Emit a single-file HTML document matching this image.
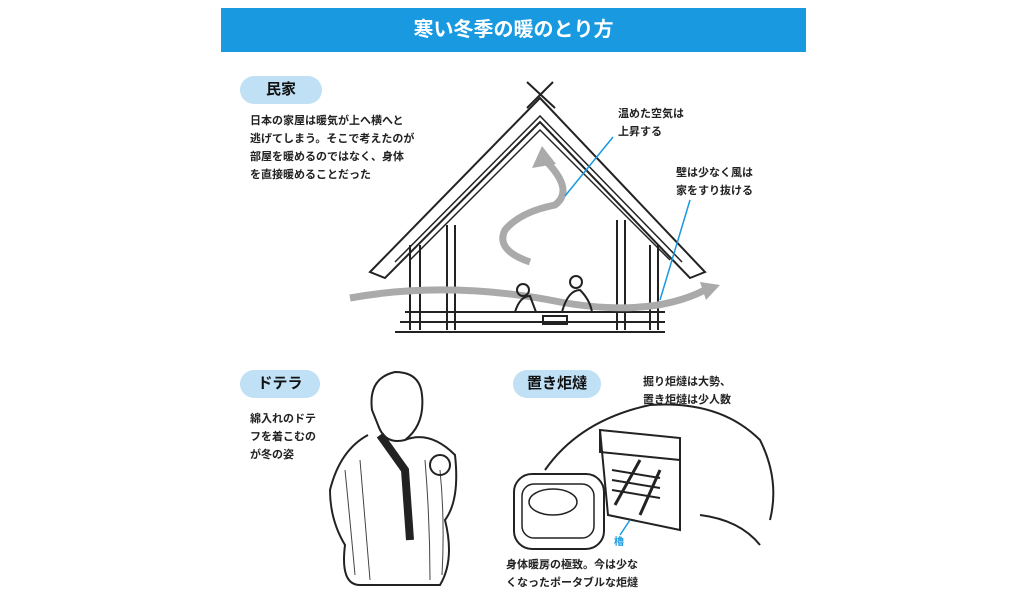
<!DOCTYPE html>
<html><head><meta charset="utf-8"><style>
body{margin:0;width:1024px;height:600px;background:#fff;overflow:hidden;position:relative;font-family:"Liberation Sans","Noto Sans CJK JP",sans-serif;}
.t{position:absolute;font-size:11px;line-height:18px;color:#222;font-weight:bold;white-space:nowrap}
.pill{position:absolute;background:#bfe0f5;border-radius:16px;font-size:15px;font-weight:bold;text-align:center;line-height:28px;height:28px;color:#111}
</style></head><body>
<div style="position:absolute;left:221px;top:8px;width:585px;height:44px;background:#1899e0;color:#fff;font-size:20px;font-weight:bold;text-align:center;line-height:44px">寒い冬季の暖のとり方</div>
<div class="pill" style="left:240px;top:76px;width:82px">民家</div>
<div class="t" style="left:250px;top:112px">日本の家屋は暖気が上へ横へと<br>逃げてしまう。そこで考えたのが<br>部屋を暖めるのではなく、身体<br>を直接暖めることだった</div>
<div class="t" style="left:618px;top:105px">温めた空気は<br>上昇する</div>
<div class="t" style="left:676px;top:164px">壁は少なく風は<br>家をすり抜ける</div>
<div class="pill" style="left:240px;top:370px;width:80px">ドテラ</div>
<div class="t" style="left:250px;top:410px">綿入れのドテ<br>フを着こむの<br>が冬の姿</div>
<div class="pill" style="left:513px;top:370px;width:88px">置き炬燵</div>
<div class="t" style="left:643px;top:373px">掘り炬燵は大勢、<br>置き炬燵は少人数</div>
<div class="t" style="left:506px;top:556px">身体暖房の極致。今は少な<br>くなったポータブルな炬燵</div>
<div class="t" style="left:614px;top:534px;color:#1899e0;font-size:10px">櫓</div>
<svg width="1024" height="600" style="position:absolute;left:0;top:0" fill="none" stroke="#222" stroke-width="2">
<path d="M370 272 L540 98 L705 272 L690 278 L540 122 L385 278 Z"/>
<path d="M395 262 L540 116 L682 262" stroke-width="1.5"/>
<path d="M410 260 L540 130 L670 260" stroke-width="1.5"/>
<path d="M527 82 L555 108 M553 82 L527 108"/>
<path d="M410 245 V330 M420 245 V330 M447 225 V330 M455 225 V330 M617 220 V330 M625 220 V330 M650 245 V330 M658 245 V330"/>
<path d="M405 312 H665 M400 322 H665 M395 332 H665"/>
<path d="M350 298 Q450 280 560 302 Q650 318 705 290" stroke="#aaa" stroke-width="7"/>
<path d="M700 282 L720 285 L706 300 Z" fill="#aaa" stroke="none"/>
<path d="M530 262 Q495 250 505 230 Q520 212 555 205 Q575 190 545 160" stroke="#aaa" stroke-width="7"/>
<path d="M532 168 L542 146 L556 164 Z" fill="#aaa" stroke="none"/>
<circle cx="523" cy="290" r="6"/><path d="M515 312 Q520 296 530 296 L536 312"/>
<circle cx="576" cy="282" r="6"/><path d="M562 312 Q568 290 580 290 Q590 300 592 312"/>
<rect x="543" y="316" width="24" height="8"/>
<path d="M565 196 L613 137 M660 300 L690 200" stroke="#1899e0" stroke-width="1.5"/>
<path d="M372 410 Q368 378 395 372 Q420 372 422 395 Q425 425 405 440 Q385 445 378 425 Z"/>
<path d="M368 435 Q340 450 330 490 Q330 520 345 545 Q340 585 360 585 L440 585 Q455 560 445 520 Q460 500 455 455 Q430 430 405 440"/>
<path d="M380 435 L405 470 L410 540" stroke-width="8"/>
<g stroke-width="1" stroke="#444"><path d="M345 470 Q350 520 355 575 M360 460 Q365 520 370 580 M425 460 Q430 520 430 580 M440 470 Q445 520 442 575"/></g>
<circle cx="440" cy="465" r="10"/>
<path d="M545 470 Q580 420 650 405 Q720 400 760 440 Q780 480 770 520 M700 515 Q740 520 760 545"/>
<rect x="514" y="474" width="90" height="75" rx="18"/>
<rect x="522" y="484" width="72" height="54" rx="12" stroke-width="1.5"/>
<ellipse cx="553" cy="502" rx="24" ry="13" stroke-width="1.5"/>
<path d="M600 430 L680 438 L680 530 L608 515 Z"/>
<path d="M600 430 V452 L680 460 M612 470 L660 478 M612 480 L660 488 M612 490 L660 498"/>
<path d="M615 505 L640 460 M640 515 L660 470" stroke-width="3"/>
<path d="M630 520 L620 535" stroke="#1899e0" stroke-width="1.5"/>
</svg>
</body></html>
